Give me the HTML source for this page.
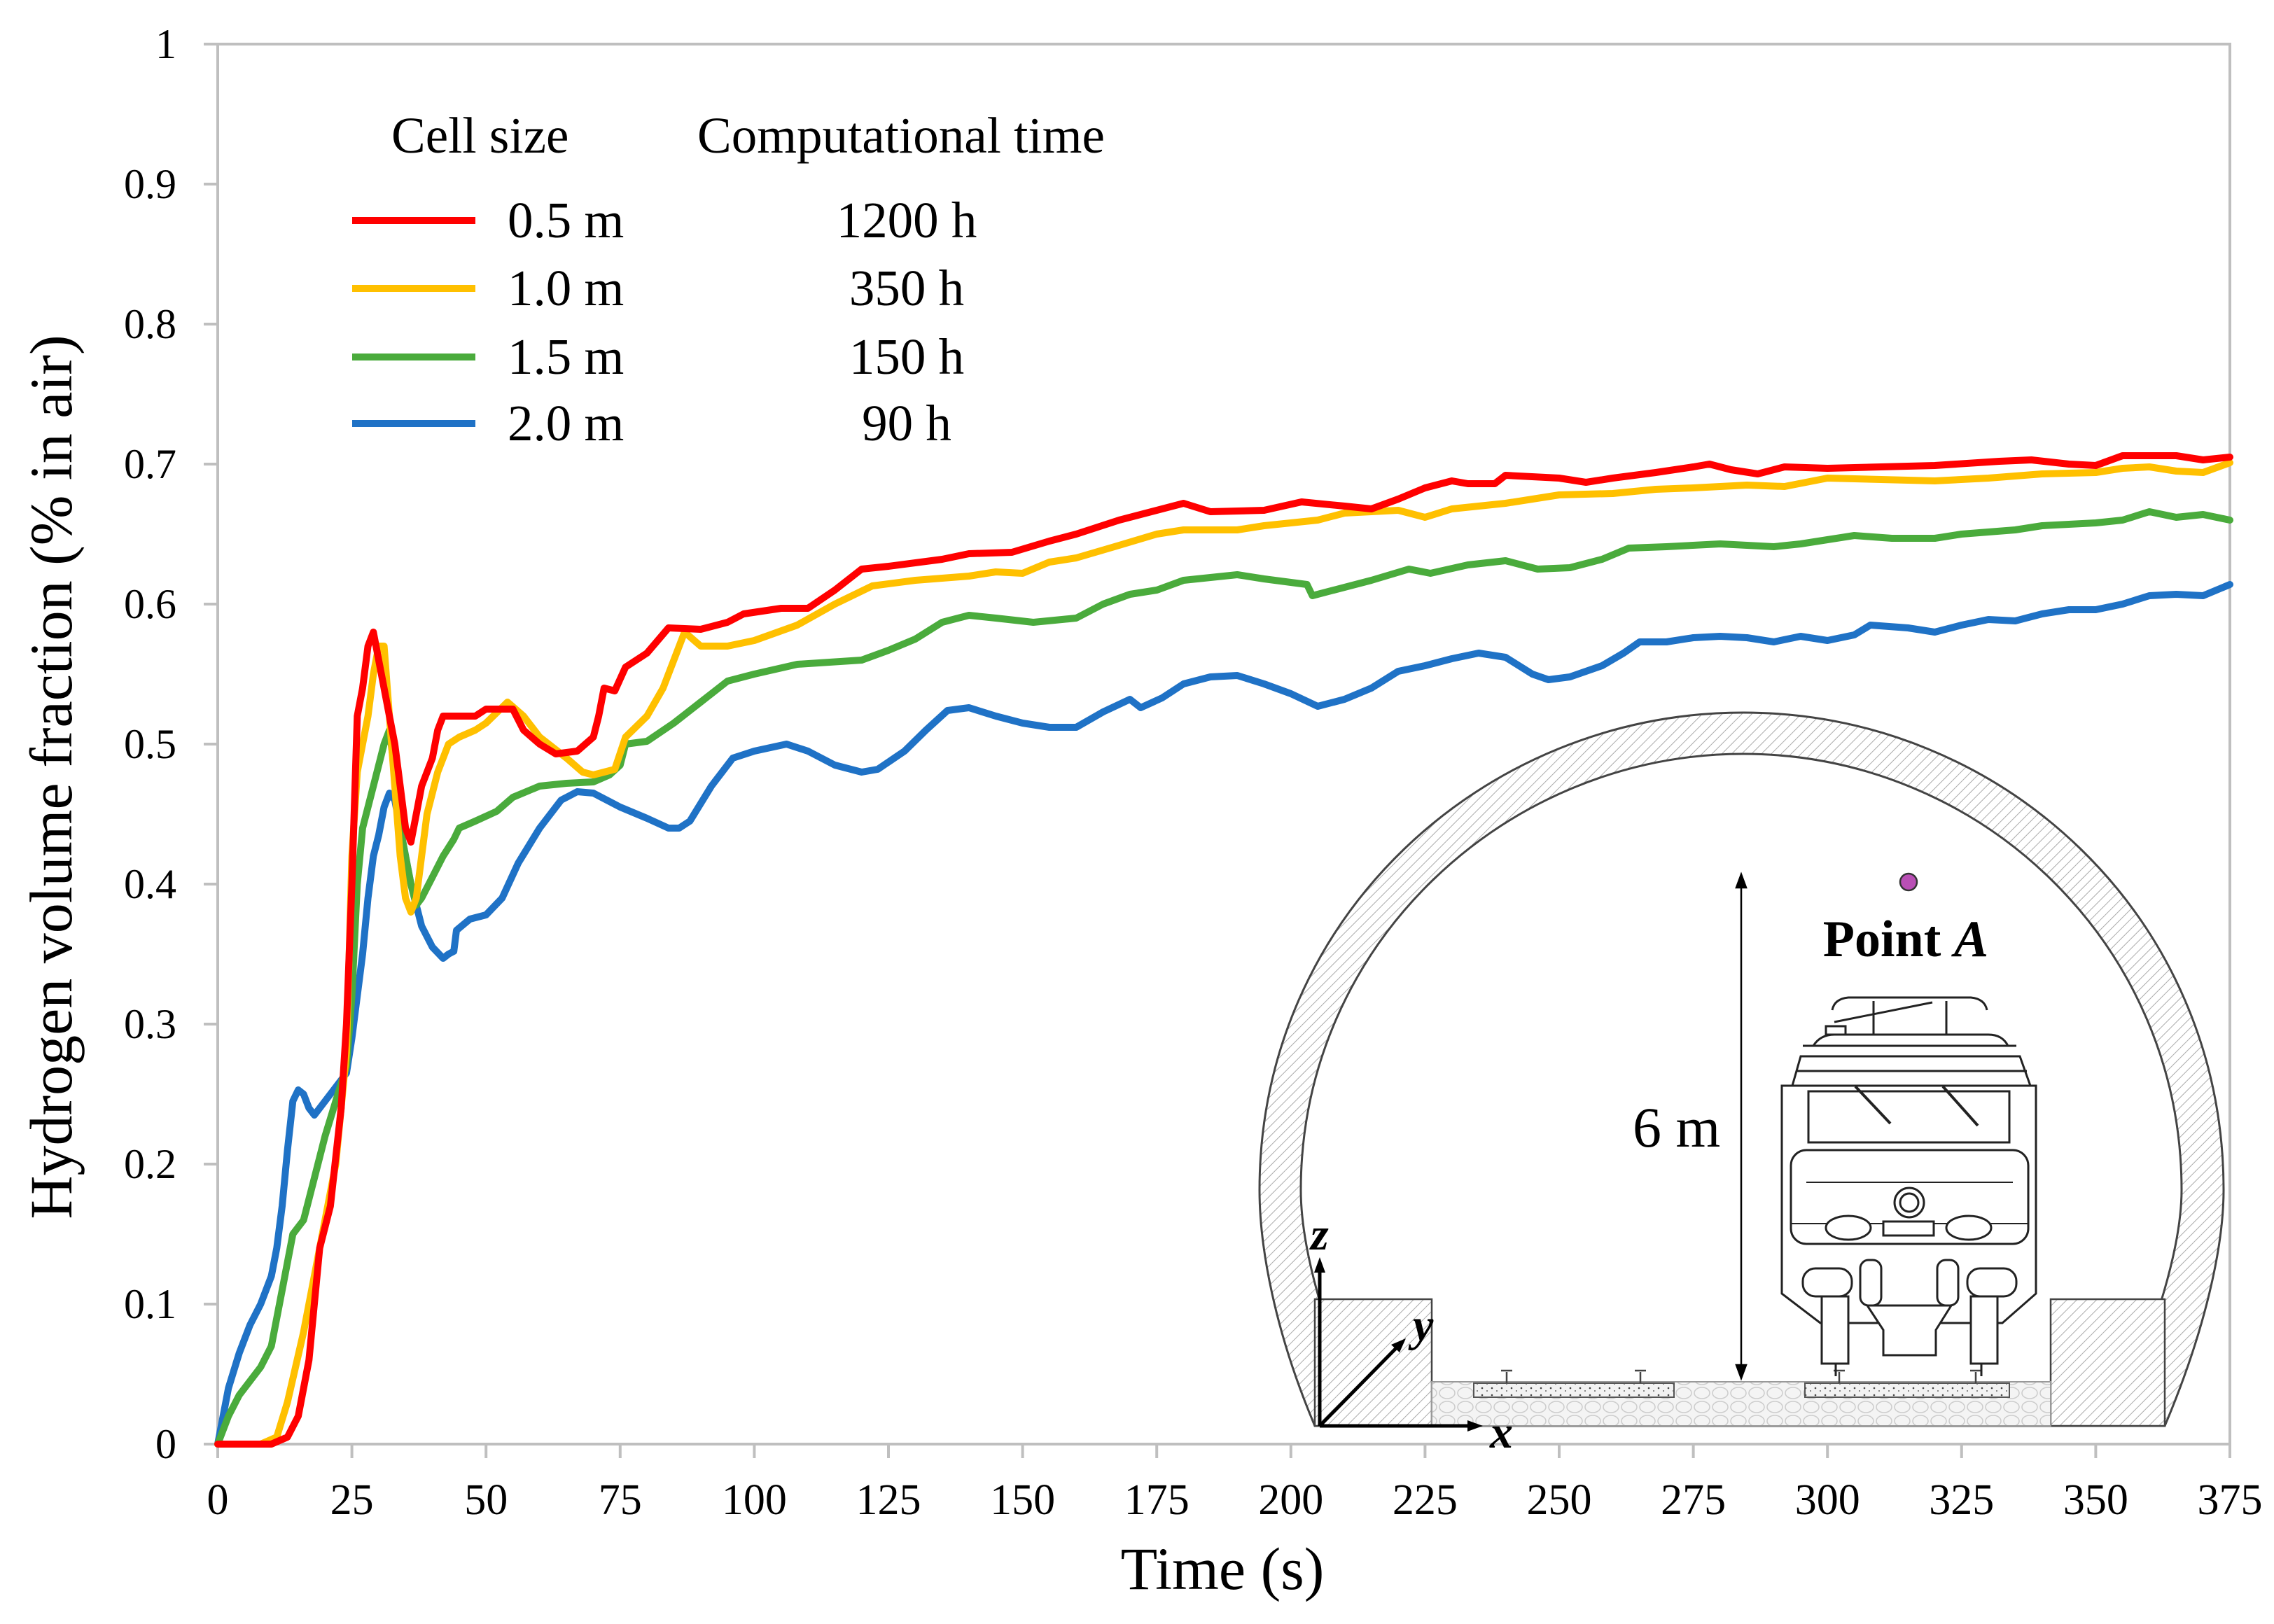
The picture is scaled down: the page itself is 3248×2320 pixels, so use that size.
<!DOCTYPE html>
<html><head><meta charset="utf-8"><style>
html,body{margin:0;padding:0;background:#fff}
svg{display:block}
text{font-family:"Liberation Serif",serif;fill:#000}
</style></head><body>
<svg id="chart" width="3248" height="2320" viewBox="0 0 3248 2320" xmlns="http://www.w3.org/2000/svg">
<defs>
<pattern id="hatch" patternUnits="userSpaceOnUse" width="10" height="10" patternTransform="rotate(45)">
<rect width="10" height="10" fill="#fff"/><line x1="0" y1="0" x2="0" y2="10" stroke="#aaa" stroke-width="2"/>
</pattern>
<pattern id="stones" patternUnits="userSpaceOnUse" width="26" height="20">
<rect width="26" height="20" fill="#f4f4f4"/><ellipse cx="13" cy="10" rx="11" ry="8" fill="none" stroke="#ccc" stroke-width="1.5"/>
</pattern>
<pattern id="dots" patternUnits="userSpaceOnUse" width="14" height="10">
<rect width="14" height="10" fill="#f2f2f2"/><circle cx="3" cy="3" r="1.3" fill="#444"/><circle cx="10" cy="7" r="1" fill="#666"/>
</pattern>
</defs>
<g id="frame"></g>
<g id="inset">
<path fill="url(#hatch)" stroke="#444" stroke-width="3" fill-rule="evenodd"
 d="M1878,2037 C1820,1900 1799,1780 1799,1700 C1799,1310 2120,1018 2490,1018 C2860,1018 3176,1310 3176,1700 C3176,1780 3150,1900 3092,2037 Z
    M1952,2037 C1890,1900 1858,1780 1858,1700 C1858,1350 2150,1077 2490,1077 C2830,1077 3116,1350 3116,1700 C3116,1780 3080,1900 3018,2037 Z"/>
<rect x="1878" y="1856" width="167" height="181" fill="url(#hatch)" stroke="#444" stroke-width="2.5"/>
<rect x="2929" y="1856" width="163" height="181" fill="url(#hatch)" stroke="#444" stroke-width="2.5"/>
<rect x="2045" y="1974" width="884" height="63" fill="url(#stones)" stroke="#999" stroke-width="2"/>
<rect x="2105" y="1976" width="286" height="20" fill="url(#dots)" stroke="#555" stroke-width="2"/>
<rect x="2578" y="1976" width="292" height="20" fill="url(#dots)" stroke="#555" stroke-width="2"/>
<g stroke="#444" stroke-width="2.5" fill="#fff">
<path d="M2152,1976 v-16 M2144,1958 h16 M2343,1976 v-16 M2335,1958 h16 M2627,1976 v-16 M2619,1958 h16 M2822,1976 v-16 M2814,1958 h16"/>
</g>
<g fill="#fff" stroke="#222" stroke-width="3">
<path d="M2617,1443 Q2620,1427 2640,1425 L2815,1425 Q2835,1427 2838,1443" fill="none"/>
<line x1="2676" y1="1430" x2="2676" y2="1478"/><line x1="2780" y1="1430" x2="2780" y2="1478"/>
<line x1="2620" y1="1460" x2="2760" y2="1432"/>
<rect x="2608" y="1466" width="28" height="12"/>
<path d="M2590,1494 Q2600,1478 2620,1478 L2840,1478 Q2860,1478 2868,1494 Z"/>
<line x1="2575" y1="1494" x2="2880" y2="1494"/>
<path d="M2560,1551 L2572,1509 L2885,1509 L2900,1551 Z"/>
<line x1="2565" y1="1530" x2="2895" y2="1530"/>
<path d="M2545,1551 L2908,1551 L2908,1848 L2860,1890 L2600,1890 L2545,1848 Z"/>
<rect x="2583" y="1559" width="287" height="73"/>
<line x1="2650" y1="1552" x2="2700" y2="1605" stroke-width="4"/><line x1="2775" y1="1552" x2="2825" y2="1608" stroke-width="4"/>
<rect x="2558" y="1643" width="339" height="134" rx="22"/>
<line x1="2580" y1="1689" x2="2875" y2="1689" stroke-width="2"/>
<circle cx="2727" cy="1718" r="21"/><circle cx="2727" cy="1718" r="13"/>
<line x1="2558" y1="1748" x2="2897" y2="1748" stroke-width="2"/>
<ellipse cx="2640" cy="1754" rx="32" ry="17"/><ellipse cx="2812" cy="1754" rx="32" ry="17"/>
<rect x="2690" y="1745" width="72" height="20"/>
<rect x="2575" y="1812" width="70" height="40" rx="18"/><rect x="2810" y="1812" width="70" height="40" rx="18"/>
<rect x="2657" y="1800" width="30" height="65" rx="12"/><rect x="2767" y="1800" width="30" height="65" rx="12"/>
<path d="M2667,1865 L2787,1865 L2765,1900 L2765,1936 L2690,1936 L2690,1900 Z"/>
<rect x="2602" y="1852" width="38" height="96"/><rect x="2815" y="1852" width="38" height="96"/>
<line x1="2622" y1="1948" x2="2622" y2="1966"/><line x1="2830" y1="1948" x2="2830" y2="1966"/>
</g>
<g stroke="#000" stroke-width="2.5">
<line x1="2487" y1="1262" x2="2487" y2="1956"/>
<path d="M2487,1249 L2480,1268 L2494,1268 Z M2487,1969 L2480,1950 L2494,1950 Z" fill="#000"/>
</g>
<text x="2332" y="1638" font-size="82">6 m</text>
<circle cx="2726" cy="1260" r="12" fill="#b94fb5" stroke="#333" stroke-width="2.5"/>
<text x="2722" y="1366" font-size="74" font-weight="bold" text-anchor="middle">Point <tspan font-style="italic">A</tspan></text>
<g stroke="#000" stroke-width="5">
<line x1="1885" y1="2037" x2="1885" y2="1815"/><line x1="1885" y1="2037" x2="2100" y2="2037"/><line x1="1885" y1="2037" x2="1995" y2="1925"/>
<path d="M1885,1796 L1877,1818 L1893,1818 Z M2118,2037 L2096,2029 L2096,2045 Z M2008,1912 L1987,1921 L1999,1932 Z" fill="#000" stroke="none"/>
</g>
<text x="1872" y="1785" font-size="66" font-weight="bold" font-style="italic">z</text>
<text x="2018" y="1915" font-size="66" font-weight="bold" font-style="italic">y</text>
<text x="2128" y="2068" font-size="66" font-weight="bold" font-style="italic">x</text>
</g>
<g id="series"></g>
<g id="legend">
<text x="559" y="218" font-size="73">Cell size</text>
<text x="996" y="218" font-size="73">Computational time</text>
</g>
</svg>
<script>
const categories = ["0.5 m","1.0 m","1.5 m","2.0 m"];
const compTimes = ["1200 h","350 h","150 h","90 h"];
const xTicks = [0,25,50,75,100,125,150,175,200,225,250,275,300,325,350,375];
const yTicks = [0,0.1,0.2,0.3,0.4,0.5,0.6,0.7,0.8,0.9,1];
const yTickLabels = ["0","0.1","0.2","0.3","0.4","0.5","0.6","0.7","0.8","0.9","1"];

const redT = [0,10,13,15,17,19,21,23,24,25,26,27,28,29,30,32,33,34,35,36,37,38,40,41,42,45,48,50,55,57,60,63,67,70,71,72,74,76,80,84,90,95,98,105,110,115,120,125,135,140,148,155,160,168,175,180,185,195,202,210,215,220,225,230,233,238,240,250,255,260,268,275,278,282,287,292,300,320,332,338,345,350,355,365,370,375];
const redV = [0,0,0.005,0.02,0.06,0.14,0.17,0.24,0.3,0.4,0.52,0.54,0.57,0.58,0.56,0.52,0.5,0.47,0.44,0.43,0.45,0.47,0.49,0.51,0.52,0.52,0.52,0.525,0.525,0.51,0.5,0.493,0.495,0.505,0.52,0.54,0.538,0.555,0.565,0.583,0.582,0.587,0.593,0.597,0.597,0.61,0.625,0.627,0.632,0.636,0.637,0.645,0.65,0.66,0.667,0.672,0.666,0.667,0.673,0.67,0.668,0.675,0.683,0.688,0.686,0.686,0.692,0.69,0.687,0.69,0.694,0.698,0.7,0.696,0.693,0.698,0.697,0.699,0.702,0.703,0.7,0.699,0.706,0.706,0.703,0.705];

const yellowT = [0,8,11,13,16,19,22,24,25,26,27,28,29,30,31,32,33,34,35,36,37,38,39,41,43,45,48,50,54,57,60,65,68,70,72,74,76,80,83,87,90,95,100,108,115,122,130,140,145,150,155,160,168,175,180,190,195,200,205,210,220,225,230,240,250,260,268,275,285,292,300,310,320,330,340,350,355,360,365,370,375];
const yellowV = [0,0,0.005,0.03,0.08,0.14,0.2,0.28,0.42,0.48,0.5,0.52,0.55,0.57,0.57,0.52,0.47,0.42,0.39,0.38,0.39,0.42,0.45,0.48,0.5,0.505,0.51,0.515,0.53,0.52,0.505,0.49,0.48,0.478,0.48,0.482,0.505,0.52,0.54,0.58,0.57,0.57,0.574,0.585,0.6,0.613,0.617,0.62,0.623,0.622,0.63,0.633,0.642,0.65,0.653,0.653,0.656,0.658,0.66,0.665,0.667,0.662,0.668,0.672,0.678,0.679,0.682,0.683,0.685,0.684,0.69,0.689,0.688,0.69,0.693,0.694,0.697,0.698,0.695,0.694,0.701];

const greenT = [0,2,4,6,8,10,12,14,16,18,20,22,24,25,26,27,29,31,32,33,34,36,37,38,40,42,44,45,48,52,55,60,65,70,73,75,76,80,85,90,95,100,108,120,125,130,135,140,145,152,160,165,170,175,180,190,195,203,204,208,215,222,226,233,240,246,252,258,263,270,280,290,295,300,305,312,320,325,335,340,350,355,360,365,370,375];
const greenV = [0,0.02,0.035,0.045,0.055,0.07,0.11,0.15,0.16,0.19,0.22,0.245,0.27,0.32,0.4,0.44,0.47,0.5,0.51,0.48,0.44,0.4,0.385,0.39,0.405,0.42,0.432,0.44,0.445,0.452,0.462,0.47,0.472,0.473,0.478,0.485,0.5,0.502,0.515,0.53,0.545,0.55,0.557,0.56,0.567,0.575,0.587,0.592,0.59,0.587,0.59,0.6,0.607,0.61,0.617,0.621,0.618,0.614,0.606,0.61,0.617,0.625,0.622,0.628,0.631,0.625,0.626,0.632,0.64,0.641,0.643,0.641,0.643,0.646,0.649,0.647,0.647,0.65,0.653,0.656,0.658,0.66,0.666,0.662,0.664,0.66];

const blueT = [0,1,2,4,6,8,10,11,12,13,14,15,16,17,18,20,22,24,25,27,28,29,30,31,32,33,34,36,38,40,42,43,44,44.5,47,50,53,56,60,64,67,70,75,80,84,86,88,92,96,100,106,110,115,120,123,128,132,136,140,145,150,155,160,165,170,172,176,180,185,190,195,200,205,210,215,220,225,230,235,240,245,248,252,258,262,265,270,275,280,285,290,295,300,305,308,315,320,325,330,335,340,345,350,355,360,365,370,375];
const blueV = [0,0.02,0.04,0.065,0.085,0.1,0.12,0.14,0.17,0.21,0.245,0.253,0.25,0.24,0.235,0.245,0.255,0.265,0.29,0.35,0.39,0.42,0.435,0.455,0.465,0.46,0.44,0.4,0.37,0.355,0.347,0.35,0.352,0.367,0.375,0.378,0.39,0.415,0.44,0.46,0.466,0.465,0.455,0.447,0.44,0.44,0.445,0.47,0.49,0.495,0.5,0.495,0.485,0.48,0.482,0.495,0.51,0.524,0.526,0.52,0.515,0.512,0.512,0.523,0.532,0.526,0.533,0.543,0.548,0.549,0.543,0.536,0.527,0.532,0.54,0.552,0.556,0.561,0.565,0.562,0.55,0.546,0.548,0.556,0.565,0.573,0.573,0.576,0.577,0.576,0.573,0.577,0.574,0.578,0.585,0.583,0.58,0.585,0.589,0.588,0.593,0.596,0.596,0.6,0.606,0.607,0.606,0.614];

const NS = "http://www.w3.org/2000/svg";
const X0 = 311, X1 = 3185, Y0 = 2063, Y1 = 63;
function xs(t){ return X0 + (t - 0) / (375 - 0) * (X1 - X0); }
function ys(v){ return Y0 - (v - 0) / (1 - 0) * (Y0 - Y1); }
function mk(tag, attrs, parent){ const e = document.createElementNS(NS, tag); for (const k in attrs) e.setAttribute(k, attrs[k]); parent.appendChild(e); return e; }

const frame = document.getElementById('frame');
const box = mk('rect', {x:X0, y:Y1, width:X1-X0, height:Y0-Y1, fill:'none', stroke:'#bfbfbf', 'stroke-width':4}, frame);



xTicks.forEach(function(t){
  const tk = mk('line', {x1:xs(t), x2:xs(t), y1:Y0, y2:Y0+20, stroke:'#bfbfbf', 'stroke-width':4}, frame);
  
  
  const lb = mk('text', {x:xs(t), y:2163, 'font-size':62, 'text-anchor':'middle'}, frame);
  lb.textContent = String(t);
  
  
});
yTicks.forEach(function(v, i){
  const tk = mk('line', {x1:X0-20, x2:X0, y1:ys(v), y2:ys(v), stroke:'#bfbfbf', 'stroke-width':4}, frame);
  
  
  const lb = mk('text', {x:252, y:ys(v)+20, 'font-size':60, 'text-anchor':'end'}, frame);
  lb.textContent = yTickLabels[i];
  
  
});
const xt = mk('text', {x:1746, y:2270, 'font-size':86, 'text-anchor':'middle'}, frame);
xt.textContent = 'Time (s)';


const yt = mk('text', {x:0, y:0, 'font-size':86, 'text-anchor':'middle', transform:'translate(102,1110) rotate(-90)'}, frame);
yt.textContent = 'Hydrogen volume fraction (% in air)';



const seriesT = [redT, yellowT, greenT, blueT];
const seriesV = [redV, yellowV, greenV, blueV];
const colors = ['#ff0000','#ffc000','#4aab3c','#1f72c6'];
const names = ['series-0-5m','series-1-0m','series-1-5m','series-2-0m'];
const sg = document.getElementById('series');
for (let s = 3; s >= 0; s--) {
  let d = '';
  seriesT[s].forEach(function(t, i){ d += (i ? 'L' : 'M') + xs(t).toFixed(1) + ',' + ys(seriesV[s][i]).toFixed(1); });
  const p = mk('path', {d:d, fill:'none', stroke:colors[s], 'stroke-width':10, 'stroke-linejoin':'round', 'stroke-linecap':'round'}, sg);
  
  
}

const lg = document.getElementById('legend');
const legY = [315, 412, 510, 605];
categories.forEach(function(c, i){
  const ln = mk('line', {x1:503, x2:679, y1:legY[i], y2:legY[i], stroke:colors[i], 'stroke-width':10}, lg);
  
  
  const t1 = mk('text', {x:725, y:legY[i]+24, 'font-size':73}, lg);
  t1.textContent = c;
  
  
  const t2 = mk('text', {x:1295, y:legY[i]+24, 'font-size':73, 'text-anchor':'middle'}, lg);
  t2.textContent = compTimes[i];
  
  
});
</script>
</body></html>
